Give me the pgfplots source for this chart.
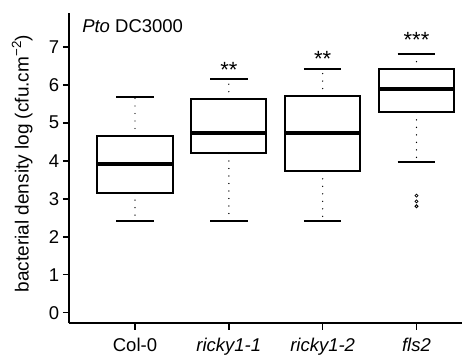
\documentclass[border=0pt]{standalone}
\usepackage{fontspec}
\setmainfont{Liberation Sans}
\usepackage{pgfplots}
\pgfplotsset{compat=1.18}
\usepgfplotslibrary{statistics}
\begin{document}
\begin{tikzpicture}
\begin{axis}[
  scale only axis,
  width=392.7bp, height=310.3bp,
  xmin=0.300, xmax=4.485,
  ymin=-0.279, ymax=7.887,
  axis lines=left,
  axis line style={-, line width=1.6bp, black},
  tick align=outside,
  major tick length=6.5bp,
  every tick/.style={line width=1.6bp, black},
  xtick={1,2,3,4},
  xticklabels={Col-0, \textit{ricky1-1}, \textit{ricky1-2}, \textit{fls2}},
  ytick={0,1,2,3,4,5,6,7},
  /pgf/number format/assume math mode=true,
  tick label style={font=\fontsize{18.5bp}{22bp}\selectfont, black},
  xticklabel style={yshift=-4.5bp},
  ylabel={bacterial density log (cfu.cm\textsuperscript{−2})},
  ylabel style={font=\fontsize{19bp}{22bp}\selectfont, at={(axis description cs:-0.12,0.515)}, anchor=center},
  clip=false,
  boxplot/draw direction=y,
  boxplot/box extend=0.8,
  boxplot/whisker extend=0.4,
  boxplot/every box/.style={line width=2bp},
  boxplot/every median/.style={line width=4bp},
  boxplot/draw/lower whisker/.code={
    \draw[line width=1.4bp, line cap=round, dash pattern=on 0bp off 7.5bp]
      (boxplot box cs:\pgfplotsboxplotvalue{lower quartile},0.5) --
      (boxplot box cs:\pgfplotsboxplotvalue{lower whisker},0.5);
    \draw[line width=1.8bp]
      (boxplot whisker cs:\pgfplotsboxplotvalue{lower whisker},0) --
      (boxplot whisker cs:\pgfplotsboxplotvalue{lower whisker},1);
  },
  boxplot/draw/upper whisker/.code={
    \draw[line width=1.4bp, line cap=round, dash pattern=on 0bp off 7.5bp]
      (boxplot box cs:\pgfplotsboxplotvalue{upper quartile},0.5) --
      (boxplot box cs:\pgfplotsboxplotvalue{upper whisker},0.5);
    \draw[line width=1.8bp]
      (boxplot whisker cs:\pgfplotsboxplotvalue{upper whisker},0) --
      (boxplot whisker cs:\pgfplotsboxplotvalue{upper whisker},1);
  },
]
\addplot[black, boxplot prepared={draw position=1,
  lower whisker=2.42, lower quartile=3.16, median=3.905,
  upper quartile=4.65, upper whisker=5.68}] coordinates {};
\addplot[black, boxplot prepared={draw position=2,
  lower whisker=2.42, lower quartile=4.19, median=4.72,
  upper quartile=5.62, upper whisker=6.15}] coordinates {};
\addplot[black, boxplot prepared={draw position=3,
  lower whisker=2.42, lower quartile=3.72, median=4.72,
  upper quartile=5.70, upper whisker=6.41}] coordinates {};
\addplot[black, mark=o, mark size=1.5bp, mark options={solid, line width=0.8bp},
  boxplot prepared={draw position=4,
  lower whisker=3.96, lower quartile=5.27, median=5.90,
  upper quartile=6.41, upper whisker=6.80}]
  table[row sep=\\, y index=0] {\\ 3.08\\ 2.93\\ 2.80\\};
\node[anchor=north, inner sep=0pt, font=\fontsize{22bp}{24bp}\selectfont] at (axis cs:2,6.59) {**};
\node[anchor=north, inner sep=0pt, font=\fontsize{22bp}{24bp}\selectfont] at (axis cs:3,6.87) {**};
\node[anchor=north, inner sep=0pt, font=\fontsize{22bp}{24bp}\selectfont] at (axis cs:4,7.39) {***};
\node[anchor=base west, inner sep=0pt, font=\fontsize{18.5bp}{22bp}\selectfont] at (axis cs:0.436,7.38) {\textit{Pto} DC3000};
\end{axis}
\pgfresetboundingbox
\path[use as bounding box] (-69.3bp,-32.7bp) rectangle (392.7bp,323.3bp);
\end{tikzpicture}
\end{document}
